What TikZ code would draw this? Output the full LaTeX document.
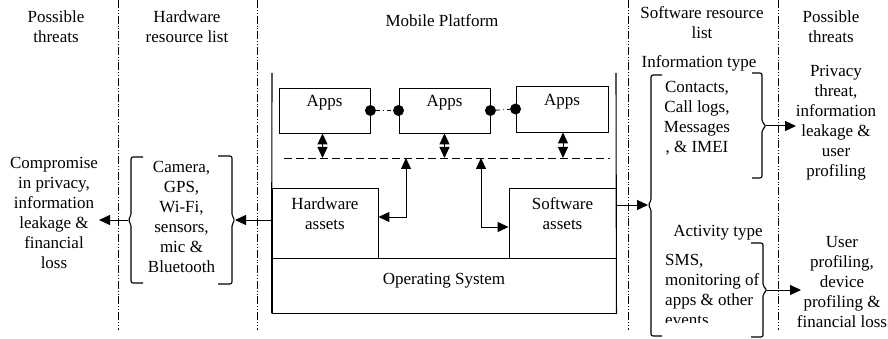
\documentclass[tikz,border=0pt]{standalone}
\usepackage{fontspec}
\setmainfont{Liberation Serif}
\usetikzlibrary{arrows.meta,calc}
\begin{document}
\begin{tikzpicture}[x=1pt,y=-1pt,
  every node/.style={font=\fontsize{17}{20}\selectfont, inner sep=0pt},
  txt/.style={align=center},
  box/.style={draw, line width=0.9pt},
  sepline/.style={line width=0.6pt, dash pattern=on 8pt off 2pt on 0.8pt off 2pt on 0.8pt off 2pt},
  frame/.style={line width=1.1pt},
  arr/.style={line width=1pt, -{Triangle[length=11pt,width=10pt]}},
  darr/.style={line width=1pt, {Triangle[length=11pt,width=10pt]}-{Triangle[length=11pt,width=10pt]}},
  brace/.style={line width=1.1pt, rounded corners=2pt},
  dot/.style={circle, fill, minimum size=11pt, inner sep=0pt},
  link/.style={line width=0.8pt, dash pattern=on 4pt off 3pt on 1pt off 3pt},
  busline/.style={line width=0.9pt, dash pattern=on 8pt off 4pt}]
\useasboundingbox (0,0) rectangle (888,339);

% column separators
\foreach \x in {118,257,628,778}
  \draw[sepline] (\x,0) -- (\x,330);

% column headings
\node[txt] (hdrL) at (56,27) {Possible\\threats};
\node[txt] (hdrHW) at (187,27) {Hardware\\resource list};
\node (hdrMP) at (442,21) {Mobile Platform};
\node[txt] (hdrSW) at (702,22.5) {Software resource\\list};
\node[txt] (hdrR) at (831,27) {Possible\\threats};

% mobile platform: apps layer
\node[box, minimum width=91pt, minimum height=45pt] (app1) at (324.5,110.5) {};
\node[box, minimum width=91pt, minimum height=45pt] (app2) at (444.5,110.5) {};
\node[box, minimum width=92pt, minimum height=46pt] (app3) at (562,109) {};
\node (app1t) at (324.5,103) {Apps};
\node (app2t) at (444.5,103) {Apps};
\node (app3t) at (562,102) {Apps};
\node[dot] (c1) at (app1.east) {};
\node[dot] (c2) at (app2.west) {};
\node[dot] (c3) at (app2.east) {};
\node[dot] (c4) at (app3.west) {};
\draw[link] (c1) -- (c2);
\draw[link] (c3) -- (c4);

% interface line between apps and assets
\coordinate (dl) at (284,158);
\coordinate (dr) at (610,158);
\draw[busline] (dl) -- (dr);
\draw[darr] ([xshift=-2pt]app1.south) -- ([xshift=-2pt]app1.south |- dl);
\draw[darr] (app2.south) -- (app2.south |- dl);
\draw[darr] ([xshift=1pt]app3.south) -- ([xshift=1pt]app3.south |- dl);

% assets and operating system
\node[box, minimum width=106pt, minimum height=70pt] (hw) at (325,223) {};
\node[box, minimum width=107pt, minimum height=70pt] (sw) at (562.5,223) {};
\node[box, minimum width=344pt, minimum height=55pt] (os) at (444,285.5) {};
\node[txt] (hwt) at (325,213.5) {Hardware\\assets};
\node[txt] (swt) at (562.5,213.5) {Software\\assets};
\node (ost) at (444,281) {Operating System};

% platform frame
\coordinate (ftl) at (272,73);
\coordinate (ftr) at (616,73);
\draw[frame] (ftl) -- (os.south west);
\draw[frame] (ftr) -- (os.south east);

% assets linked to the interface line
\coordinate (hwtap) at (406,158);
\coordinate (swtap) at (481,158);
\draw[darr] (hwtap) |- ([yshift=6pt]hw.east);
\draw[darr] (swtap) |- ([yshift=-4pt]sw.west);

% hardware resource list
\node[txt] (hwlist) at (181.5,217) {Camera,\\GPS,\\Wi-Fi,\\sensors,\\mic \&\\Bluetooth};
\draw[brace] (143,157) -- (131,157) -- (131,216) -- (128,220) -- (131,224) -- (131,283) -- (143,283);
\draw[brace] (218,156) -- (232,156) -- (232,216) -- (235,220) -- (232,224) -- (232,284) -- (218,284);
\coordinate (hlt) at (128,220);
\coordinate (hrt) at (235,220);
\coordinate (ltip) at (99,220);
\draw[arr] ([yshift=3pt]hw.west) -- (hrt);
\draw[arr] (hlt) -- (ltip);
\node[txt] (threatL) at (54,213) {Compromise\\in privacy,\\information\\leakage \&\\financial\\loss};

% software resource list
\draw[brace] (662,75) -- (651,75) -- (651,201) -- (648,205) -- (651,209) -- (651,336) -- (662,336);
\coordinate (sbt) at (648,205);
\draw[arr] ([yshift=18pt]sw.east) -- (sbt);

\node (infotype) at (699,63) {Information type};
\node[txt] (infolist) at (697,118.5) {Contacts,\\Call logs,\\Messages\\, \& IMEI};
\draw[brace] (752,73) -- (762,73) -- (762,122) -- (766,126) -- (762,130) -- (762,178) -- (752,178);
\coordinate (ibt) at (766,126);
\coordinate (itip) at (796,126);
\draw[arr] (ibt) -- (itip);
\node[txt] (threatR1) at (836,123) {Privacy\\threat,\\information\\leakage \&\\user\\profiling};

\node (acttype) at (718,233) {Activity type};
\begin{scope}
  \clip (655,245) rectangle (760,322);
  \node[align=left, anchor=west] (actlist) at (665,290) {SMS,\\monitoring of\\apps \& other\\events};
\end{scope}
\draw[brace] (751,243) -- (763,243) -- (763,286) -- (767,290) -- (763,294) -- (763,337) -- (751,337);
\coordinate (abt) at (767,290);
\coordinate (atip) at (801,290);
\draw[arr] (abt) -- (atip);
\node[txt] (threatR2) at (842,282) {User\\profiling,\\device\\profiling \&\\financial loss};
\end{tikzpicture}
\end{document}
